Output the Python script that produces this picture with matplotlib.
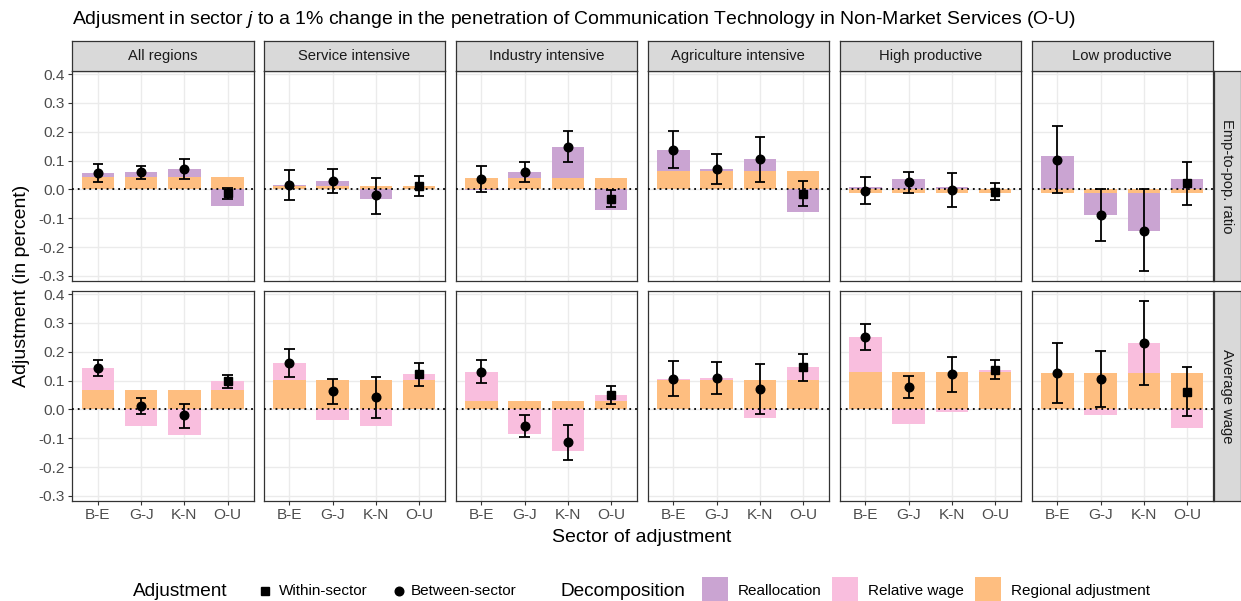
import matplotlib
matplotlib.use("Agg")
import matplotlib.pyplot as plt
from matplotlib.patches import Rectangle
from matplotlib.lines import Line2D
import numpy as np

plt.rcParams['font.family'] = ['Liberation Sans', 'DejaVu Sans']
plt.rcParams['mathtext.fontset'] = 'custom'
plt.rcParams['mathtext.it'] = 'Liberation Sans:italic'
plt.rcParams['mathtext.rm'] = 'Liberation Sans'

# ---------------- data ----------------
sectors = ["B-E", "G-J", "K-N", "O-U"]
regions = ["All regions", "Service intensive", "Industry intensive",
           "Agriculture intensive", "High productive", "Low productive"]
row_labels = ["Emp-to-pop. ratio", "Average wage"]
yticks = [-0.3, -0.2, -0.1, 0.0, 0.1, 0.2, 0.3, 0.4]
ytick_labels = ["-0.3", "-0.2", "-0.1", "0.0", "0.1", "0.2", "0.3", "0.4"]

# Emp-to-pop. ratio row
emp_regional = [0.042, 0.012, 0.039, 0.065, -0.011, -0.014]
emp_realloc = [
    [0.014, 0.017, 0.029, -0.056],
    [0.004, 0.018, -0.032, 0.000],
    [-0.003, 0.020, 0.108, -0.071],
    [0.072, 0.006, 0.039, -0.080],
    [0.007, 0.035, 0.009, 0.003],
    [0.117, -0.075, -0.130, 0.035],
]
emp_lo = [
    [0.025, 0.036, 0.035, -0.032],
    [-0.037, -0.012, -0.086, -0.023],
    [-0.009, 0.024, 0.094, -0.060],
    [0.073, 0.020, 0.025, -0.058],
    [-0.052, -0.014, -0.060, -0.038],
    [-0.012, -0.179, -0.285, -0.054],
]
emp_hi = [
    [0.088, 0.082, 0.106, 0.005],
    [0.069, 0.072, 0.041, 0.045],
    [0.080, 0.095, 0.201, -0.002],
    [0.204, 0.122, 0.182, 0.028],
    [0.044, 0.061, 0.058, 0.023],
    [0.220, 0.000, 0.000, 0.094],
]

# Average wage row
wage_regional = [0.068, 0.101, 0.030, 0.101, 0.130, 0.126]
wage_relwage = [
    [0.075, -0.056, -0.088, 0.030],
    [0.059, -0.037, -0.057, 0.021],
    [0.100, -0.087, -0.143, 0.021],
    [0.006, 0.007, -0.030, 0.045],
    [0.120, -0.052, -0.008, 0.008],
    [0.000, -0.020, 0.106, -0.065],
]
wage_lo = [
    [0.115, -0.015, -0.063, 0.075],
    [0.112, 0.017, -0.030, 0.082],
    [0.090, -0.096, -0.174, 0.017],
    [0.048, 0.052, -0.017, 0.099],
    [0.207, 0.038, 0.061, 0.104],
    [0.023, 0.010, 0.083, -0.024],
]
wage_hi = [
    [0.170, 0.039, 0.019, 0.121],
    [0.209, 0.107, 0.111, 0.161],
    [0.172, -0.021, -0.053, 0.082],
    [0.168, 0.165, 0.159, 0.194],
    [0.296, 0.117, 0.182, 0.173],
    [0.232, 0.204, 0.378, 0.147],
]
# marker type per sector: within-sector for O-U, between-sector for others
adj_type = ["Between-sector", "Between-sector", "Between-sector", "Within-sector"]

# ---------------- style ----------------
C_REALLOC = '#CAA4D2'
C_RELWAGE = '#F9BEDE'
C_REGIONAL = '#FEBE80'
GRID = '#EBEBEB'
DARK = '#333333'
TICKC = '#4D4D4D'
STRIP = '#D9D9D9'

W, H = 1241, 601
fig = plt.figure(figsize=(W / 100, H / 100), dpi=100)


def fx(x):
    return x / W


def fy(y):
    return 1 - y / H


col_x = [72, 263.5, 455.5, 647.5, 839.5, 1031.5]
pw = 181.5
row_y = [(71, 281), (291, 501)]
ylim = (-0.318, 0.411)
bar_w = 0.75
cap = 0.12

rows_data = [
    (emp_regional, emp_realloc, C_REALLOC, emp_lo, emp_hi),
    (wage_regional, wage_relwage, C_RELWAGE, wage_lo, wage_hi),
]

xpos = np.arange(1, len(sectors) + 1)

for r, (regional, other, ocol, lo, hi) in enumerate(rows_data):
    y0, y1 = row_y[r]
    for c, reg in enumerate(regions):
        ax = fig.add_axes([fx(col_x[c]), fy(y1), pw / W, (y1 - y0) / H])
        ax.set_xlim(0.4, 4.6)
        ax.set_ylim(*ylim)
        ax.set_axisbelow(True)
        ax.set_yticks(yticks)
        ax.set_xticks(xpos)
        ax.grid(True, color=GRID, linewidth=1.0)
        for s in ax.spines.values():
            s.set_color(DARK)
            s.set_linewidth(0.9)
        # stacked bars: regional first (closest to zero), then other
        reg_vals = np.full(len(sectors), regional[c])
        oth_vals = np.array(other[c])
        pos_base = np.zeros(len(sectors))
        neg_base = np.zeros(len(sectors))
        for vals, col in [(reg_vals, C_REGIONAL), (oth_vals, ocol)]:
            base = np.where(vals >= 0, pos_base, neg_base)
            ax.bar(xpos, vals, width=bar_w, bottom=base, color=col,
                   linewidth=0, zorder=2)
            pos_base = pos_base + np.where(vals >= 0, vals, 0)
            neg_base = neg_base + np.where(vals < 0, vals, 0)
        ax.axhline(0, color='black', linestyle=(0, (1, 2.2)), linewidth=1.3, zorder=3)
        est = reg_vals + oth_vals
        l = np.array(lo[c])
        h = np.array(hi[c])
        ax.vlines(xpos, l, h, color='black', linewidth=1.3, zorder=4)
        ax.hlines(l, xpos - cap, xpos + cap, color='black', linewidth=1.3, zorder=4)
        ax.hlines(h, xpos - cap, xpos + cap, color='black', linewidth=1.3, zorder=4)
        for i, t in enumerate(adj_type):
            if t == "Within-sector":
                ax.plot(xpos[i], est[i], marker='s', color='black', markersize=5.6,
                        linestyle='none', zorder=5)
            else:
                ax.plot(xpos[i], est[i], marker='o', color='black', markersize=6.2,
                        linestyle='none', zorder=5)
        ax.tick_params(axis='both', length=3, width=0.8, color=DARK,
                       labelsize=11.1, labelcolor=TICKC, pad=2)
        if c == 0:
            ax.set_yticklabels(ytick_labels)
        else:
            ax.tick_params(axis='y', length=0, labelleft=False)
        if r == 1:
            ax.set_xticklabels(sectors)
        else:
            ax.tick_params(axis='x', length=0, labelbottom=False)

        # top strips
        if r == 0:
            sax = fig.add_axes([fx(col_x[c]), fy(71), pw / W, 30 / H])
            sax.set_facecolor(STRIP)
            sax.set_xticks([])
            sax.set_yticks([])
            for s in sax.spines.values():
                s.set_color(DARK)
                s.set_linewidth(0.9)
            sax.text(0.5, 0.5, reg, ha='center', va='center', fontsize=10.6,
                     color='#1A1A1A', transform=sax.transAxes)
    # right strips
    sax = fig.add_axes([fx(1213.5), fy(y1), 27 / W, (y1 - y0) / H])
    sax.set_facecolor(STRIP)
    sax.set_xticks([])
    sax.set_yticks([])
    for s in sax.spines.values():
        s.set_color(DARK)
        s.set_linewidth(0.9)
    sax.text(0.5, 0.5, row_labels[r], ha='center', va='center', fontsize=10.6,
             color='#1A1A1A', rotation=-90, transform=sax.transAxes)

# titles
fig.text(fx(72), fy(19), r"Adjusment in sector $\mathit{j}$ to a 1% change in the penetration of "
         "Communication Technology in Non-Market Services (O-U)",
         ha='left', va='center', fontsize=13.95, color='black')
fig.text(fx(22), fy(286), "Adjustment (in percent)", rotation=90, ha='center',
         va='center', fontsize=14, color='black')
fig.text(fx(642), fy(537), "Sector of adjustment", ha='center', va='center',
         fontsize=14, color='black')

# legend (manual)
ly = 591
fig.text(fx(133), fy(ly), "Adjustment", ha='left', va='center', fontsize=13.7)
fig.add_artist(Line2D([fx(265)], [fy(ly)], marker='s', color='black', markersize=5.6,
                      linestyle='none', transform=fig.transFigure))
fig.text(fx(279), fy(ly), "Within-sector", ha='left', va='center', fontsize=11)
fig.add_artist(Line2D([fx(399)], [fy(ly)], marker='o', color='black', markersize=6.2,
                      linestyle='none', transform=fig.transFigure))
fig.text(fx(411), fy(ly), "Between-sector", ha='left', va='center', fontsize=11)
fig.text(fx(561), fy(ly), "Decomposition", ha='left', va='center', fontsize=13.7)
for kx, col, lab in [(702, C_REALLOC, "Reallocation"),
                     (832, C_RELWAGE, "Relative wage"),
                     (975, C_REGIONAL, "Regional adjustment")]:
    fig.add_artist(Rectangle((fx(kx), fy(601)), 26 / W, 24 / H, facecolor=col,
                             edgecolor='none', transform=fig.transFigure))
    fig.text(fx(kx + 36), fy(ly), lab, ha='left', va='center', fontsize=11)

fig.savefig("out.png", dpi=100, facecolor='white')
